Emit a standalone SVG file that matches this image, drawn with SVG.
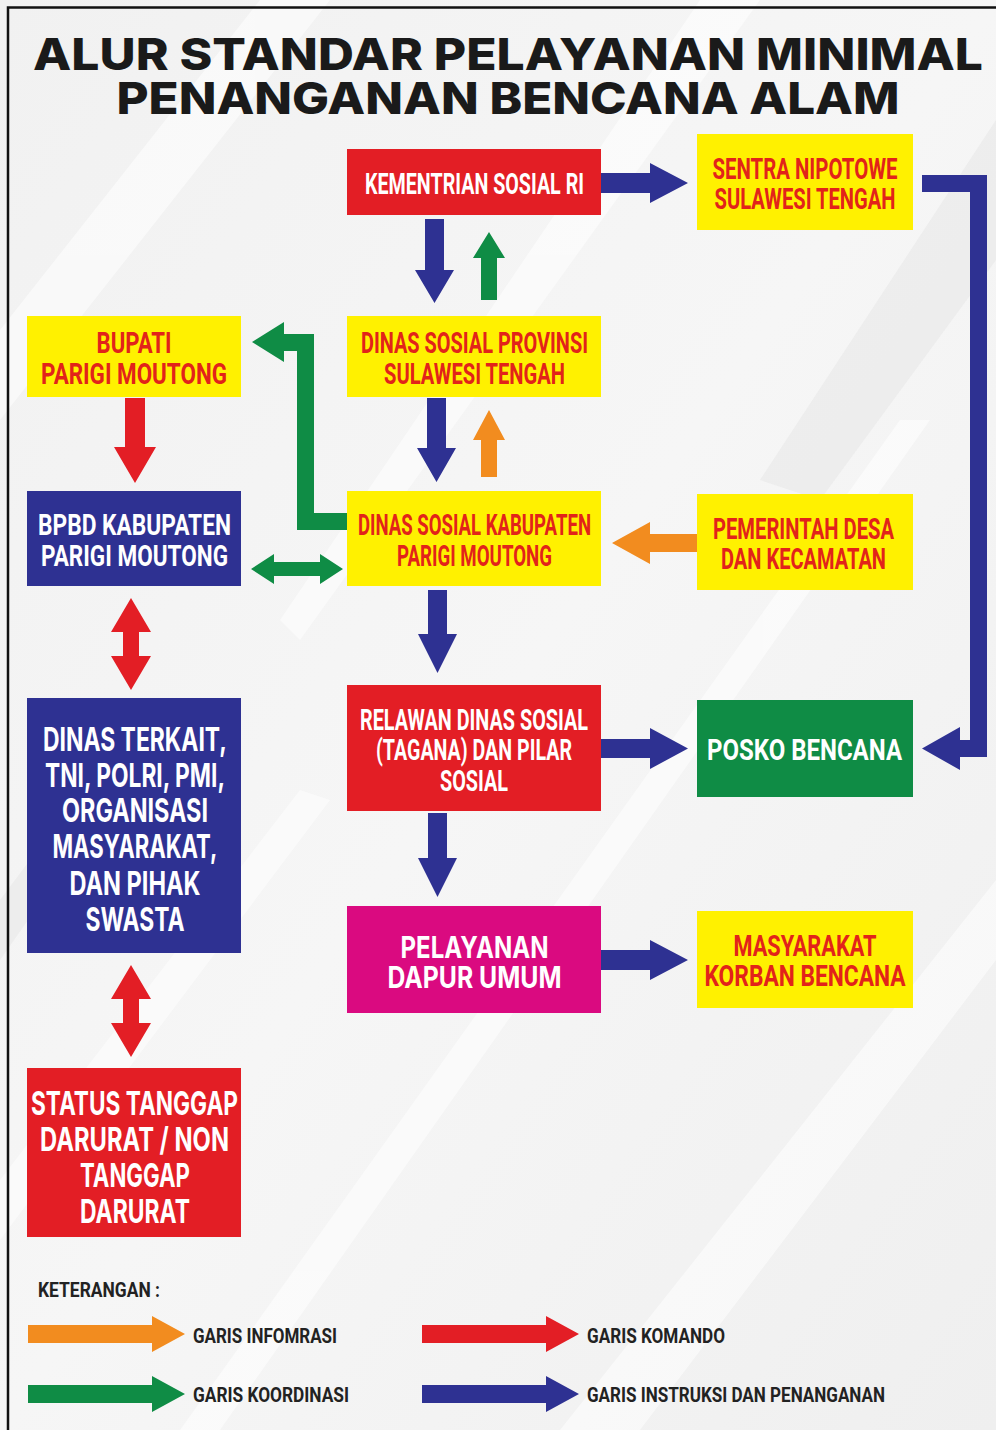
<svg xmlns="http://www.w3.org/2000/svg" width="996" height="1430" viewBox="0 0 996 1430">
<defs>
<linearGradient id="bg" x1="0" y1="0" x2="1" y2="1">
<stop offset="0" stop-color="#f1f1f1"/>
<stop offset="0.5" stop-color="#f6f6f6"/>
<stop offset="1" stop-color="#efefef"/>
</linearGradient>
<style>
.yel{fill:#fff100}
.red{fill:#e31e25}
.blu{fill:#2e3192}
.grn{fill:#0f8c45}
.mag{fill:#da0a80}
.c{font-family:Roboto,"Liberation Sans",sans-serif;font-weight:700;font-size:30px;text-anchor:middle}
.g{font-family:Inter,"Open Sans","Liberation Sans",sans-serif;font-weight:700;font-size:33px;text-anchor:middle}
.rt{fill:#e2231a}
.wt{fill:#ffffff}
.title{font-family:Inter,"Open Sans","Liberation Sans",sans-serif;font-weight:800;font-size:44px;fill:#1a1a1a;text-anchor:middle}
.leg{font-family:Roboto,"Liberation Sans",sans-serif;font-weight:700;font-size:21px;fill:#222222}
.aO{fill:#f28c1f}
.aR{fill:#e31e25}
.aG{fill:#0f8c45}
.aB{fill:#2e3192}
</style>
</defs>

<!-- background -->
<rect x="0" y="0" width="996" height="1430" fill="url(#bg)"/>
<g fill="#ffffff" opacity="0.55">
<polygon points="0,330 260,0 330,0 0,420"/>
<polygon points="560,1430 996,880 996,960 640,1430"/>
<polygon points="180,1430 900,420 930,420 220,1430"/>
<polygon points="700,0 760,0 300,640 280,620"/>
<polygon points="0,1180 300,790 330,800 0,1240"/>
</g>
<g fill="#e6e6e6" opacity="0.5">
<polygon points="996,120 996,260 820,500 760,480"/>
<polygon points="0,900 120,740 140,760 0,960"/>
</g>
<path d="M8,1430 V7.5 H996" fill="none" stroke="#111111" stroke-width="2.5"/>

<!-- title -->
<g id="title">
<text class="title" x="508" y="70" textLength="950" lengthAdjust="spacingAndGlyphs">ALUR STANDAR PELAYANAN MINIMAL</text>
<text class="title" x="508" y="114" textLength="783" lengthAdjust="spacingAndGlyphs">PENANGANAN BENCANA ALAM</text>
</g>

<!-- connectors -->
<g id="connectors">
<polygon class="aB" points="601,173 650,173 650,163 688,183 650,203 650,193 601,193"/>
<polygon class="aB" points="425,219 444,219 444,270 454,270 434.5,303 415,270 425,270"/>
<polygon class="aG" points="481,300 497,300 497,258 505,258 489,232 473,258 481,258"/>
<polygon class="aB" points="427,398 446,398 446,448 456,448 436.5,482 417,448 427,448"/>
<polygon class="aO" points="481,477 497,477 497,440 505,440 489,410 473,440 481,440"/>
<polygon class="aG" points="347,513 314,513 314,334 284,334 284,322 252,342 284,362 284,351 297,351 297,530 347,530"/>
<polygon class="aG" points="251,569 274,554 274,562 320,562 320,554 343,569 320,584 320,576 274,576 274,584"/>
<polygon class="aO" points="697,534 650,534 650,522 612,543 650,564 650,552 697,552"/>
<polygon class="aR" points="125,398 145,398 145,447 156,447 135,483 114,447 125,447"/>
<polygon class="aR" points="131,598 151,632 139,632 139,656 151,656 131,690 111,656 123,656 123,632 111,632"/>
<polygon class="aR" points="131,965 151,999 139,999 139,1023 151,1023 131,1057 111,1023 123,1023 123,999 111,999"/>
<polygon class="aB" points="428,590 447,590 447,634 457,634 437.5,673 418,634 428,634"/>
<polygon class="aB" points="601,739 650,739 650,728 688,748.5 650,769 650,758 601,758"/>
<polygon class="aB" points="922,175 987,175 987,757 960,757 960,770 922,748.5 960,727 960,740 970,740 970,192 922,192"/>
<polygon class="aB" points="428,813 447,813 447,858 457,858 437.5,897 418,858 428,858"/>
<polygon class="aB" points="601,950 650,950 650,940 688,960 650,980 650,970 601,970"/>
</g>

<!-- nodes -->
<g id="kementrian">
<rect class="red" x="347" y="149" width="254" height="66"/>
<text class="c wt" x="474.5" y="194" textLength="219" lengthAdjust="spacingAndGlyphs">KEMENTRIAN SOSIAL RI</text>
</g>
<g id="sentra">
<rect class="yel" x="697" y="134" width="216" height="96"/>
<text class="c rt" x="805" y="179" textLength="185" lengthAdjust="spacingAndGlyphs">SENTRA NIPOTOWE</text>
<text class="c rt" x="805" y="209" textLength="181" lengthAdjust="spacingAndGlyphs">SULAWESI TENGAH</text>
</g>
<g id="bupati">
<rect class="yel" x="27" y="316" width="214" height="81"/>
<text class="c rt" x="134" y="353" textLength="75" lengthAdjust="spacingAndGlyphs">BUPATI</text>
<text class="c rt" x="134" y="384" textLength="186" lengthAdjust="spacingAndGlyphs">PARIGI MOUTONG</text>
</g>
<g id="dinsos-prov">
<rect class="yel" x="347" y="316" width="254" height="81"/>
<text class="c rt" x="474.5" y="353" textLength="227" lengthAdjust="spacingAndGlyphs">DINAS SOSIAL PROVINSI</text>
<text class="c rt" x="474.5" y="384" textLength="181" lengthAdjust="spacingAndGlyphs">SULAWESI TENGAH</text>
</g>
<g id="bpbd">
<rect class="blu" x="27" y="491" width="214" height="95"/>
<text class="c wt" x="134.5" y="535" textLength="193" lengthAdjust="spacingAndGlyphs">BPBD KABUPATEN</text>
<text class="c wt" x="134.5" y="566" textLength="187" lengthAdjust="spacingAndGlyphs">PARIGI MOUTONG</text>
</g>
<g id="dinsos-kab">
<rect class="yel" x="347" y="491" width="254" height="95"/>
<text class="c rt" x="474.5" y="535" textLength="233" lengthAdjust="spacingAndGlyphs">DINAS SOSIAL KABUPATEN</text>
<text class="c rt" x="474.5" y="566" textLength="155" lengthAdjust="spacingAndGlyphs">PARIGI MOUTONG</text>
</g>
<g id="pemerintah-desa">
<rect class="yel" x="697" y="494" width="216" height="96"/>
<text class="c rt" x="803.5" y="539" textLength="181" lengthAdjust="spacingAndGlyphs">PEMERINTAH DESA</text>
<text class="c rt" x="803.5" y="569" textLength="165" lengthAdjust="spacingAndGlyphs">DAN KECAMATAN</text>
</g>
<g id="dinas-terkait">
<rect class="blu" x="27" y="698" width="214" height="255"/>
<text class="g wt" x="135" y="751" textLength="184" lengthAdjust="spacingAndGlyphs">DINAS TERKAIT,</text>
<text class="g wt" x="135" y="787" textLength="180" lengthAdjust="spacingAndGlyphs">TNI, POLRI, PMI,</text>
<text class="g wt" x="135" y="822" textLength="146" lengthAdjust="spacingAndGlyphs">ORGANISASI</text>
<text class="g wt" x="135" y="858" textLength="165" lengthAdjust="spacingAndGlyphs">MASYARAKAT,</text>
<text class="g wt" x="135" y="895" textLength="131" lengthAdjust="spacingAndGlyphs">DAN PIHAK</text>
<text class="g wt" x="135" y="931" textLength="99" lengthAdjust="spacingAndGlyphs">SWASTA</text>
</g>
<g id="relawan">
<rect class="red" x="347" y="685" width="254" height="126"/>
<text class="c wt" x="474" y="730" textLength="228" lengthAdjust="spacingAndGlyphs">RELAWAN DINAS SOSIAL</text>
<text class="c wt" x="474" y="760" textLength="196" lengthAdjust="spacingAndGlyphs">(TAGANA) DAN PILAR</text>
<text class="c wt" x="474" y="791" textLength="68" lengthAdjust="spacingAndGlyphs">SOSIAL</text>
</g>
<g id="posko">
<rect class="grn" x="697" y="700" width="216" height="97"/>
<text class="c wt" x="804.5" y="760" textLength="195" lengthAdjust="spacingAndGlyphs">POSKO BENCANA</text>
</g>
<g id="pelayanan">
<rect class="mag" x="347" y="906" width="254" height="107"/>
<text class="g wt" x="474.5" y="958" textLength="148" lengthAdjust="spacingAndGlyphs" style="font-size:30px">PELAYANAN</text>
<text class="g wt" x="474.5" y="988" textLength="174" lengthAdjust="spacingAndGlyphs" style="font-size:30px">DAPUR UMUM</text>
</g>
<g id="masyarakat">
<rect class="yel" x="697" y="911" width="216" height="97"/>
<text class="c rt" x="805" y="956" textLength="143" lengthAdjust="spacingAndGlyphs">MASYARAKAT</text>
<text class="c rt" x="805" y="986" textLength="201" lengthAdjust="spacingAndGlyphs">KORBAN BENCANA</text>
</g>
<g id="status">
<rect class="red" x="27" y="1068" width="214" height="169"/>
<text class="g wt" x="134.5" y="1115" textLength="207" lengthAdjust="spacingAndGlyphs">STATUS TANGGAP</text>
<text class="g wt" x="134.5" y="1151" textLength="189" lengthAdjust="spacingAndGlyphs">DARURAT / NON</text>
<text class="g wt" x="135" y="1187" textLength="110" lengthAdjust="spacingAndGlyphs">TANGGAP</text>
<text class="g wt" x="135" y="1223" textLength="110" lengthAdjust="spacingAndGlyphs">DARURAT</text>
</g>

<!-- legend -->
<g id="legend">
<text class="leg" x="38" y="1297" textLength="122" lengthAdjust="spacingAndGlyphs">KETERANGAN :</text>
<polygon class="aO" points="28,1325 152,1325 152,1316 185,1334 152,1352 152,1343 28,1343"/>
<text class="leg" x="193" y="1343" textLength="144" lengthAdjust="spacingAndGlyphs">GARIS INFOMRASI</text>
<polygon class="aR" points="422,1325 546,1325 546,1316 579,1334 546,1352 546,1343 422,1343"/>
<text class="leg" x="587" y="1343" textLength="138" lengthAdjust="spacingAndGlyphs">GARIS KOMANDO</text>
<polygon class="aG" points="28,1385 152,1385 152,1376 185,1394 152,1412 152,1403 28,1403"/>
<text class="leg" x="193" y="1402" textLength="156" lengthAdjust="spacingAndGlyphs">GARIS KOORDINASI</text>
<polygon class="aB" points="422,1385 546,1385 546,1376 579,1394 546,1412 546,1403 422,1403"/>
<text class="leg" x="587" y="1402" textLength="298" lengthAdjust="spacingAndGlyphs">GARIS INSTRUKSI DAN PENANGANAN</text>
</g>
</svg>
